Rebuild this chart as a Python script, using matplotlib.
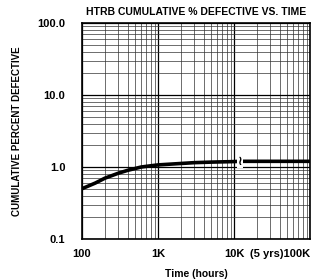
import numpy as np
import matplotlib.pyplot as plt

# curve (hours, cumulative % defective)
hours = [100, 150, 200, 300, 400, 600, 800, 1000, 2000, 3000, 5000, 10000, 12000, 20000, 50000, 100000]
pct = [0.50, 0.60, 0.70, 0.82, 0.90, 1.00, 1.04, 1.07, 1.12, 1.15, 1.17, 1.19, 1.20, 1.20, 1.20, 1.20]

xticks = [100, 1000, 10000, 100000]
xlabels = ['100', '1K', '10K', '(5 yrs)100K']
yticks = [0.1, 1, 10, 100]
ylabels = ['0.1', '1.0', '10.0', '100.0']
break_at = 12000

plt.rcParams['font.family'] = ['Liberation Sans', 'DejaVu Sans']
fig = plt.figure(figsize=(3.24, 2.79), dpi=100)
ax = fig.add_axes([0.253, 0.143, 0.704, 0.775])

ax.set_xscale('log')
ax.set_yscale('log')
ax.set_xlim(100, 100000)
ax.set_ylim(0.1, 100)

ax.grid(which='major', color='black', linewidth=0.9)
ax.grid(which='minor', color='#333333', linewidth=0.5)
ax.plot(hours, pct, color='black', linewidth=2.6, solid_capstyle='butt')
# break symbol on the curve
ax.text(break_at, 1.2, '≀', family='DejaVu Sans', fontsize=9, fontweight='bold',
        ha='center', va='center',
        bbox=dict(facecolor='white', edgecolor='none', pad=0.3))

ax.set_xticks(xticks)
ax.set_xticklabels(xlabels)
ax.set_yticks(yticks)
ax.set_yticklabels(ylabels)
ax.tick_params(axis='x', which='both', length=0, labelsize=8, pad=7)
ax.tick_params(axis='y', which='both', length=0, labelsize=8, pad=12)
for lab in ax.get_xticklabels() + ax.get_yticklabels():
    lab.set_fontweight('bold')
xl = ax.get_xticklabels()
xl[-1].set_ha('right')
xl[-1].set_x(1)
for s in ax.spines.values():
    s.set_linewidth(1.2)

ax.set_title('HTRB CUMULATIVE % DEFECTIVE VS. TIME', fontsize=7.5,
             fontweight='bold', pad=6)
ax.set_xlabel('Time (hours)', fontsize=7.5, fontweight='bold', labelpad=7)
ax.set_ylabel('CUMULATIVE PERCENT DEFECTIVE', fontsize=7, fontweight='bold', labelpad=11)

fig.savefig('out.png', dpi=100)
